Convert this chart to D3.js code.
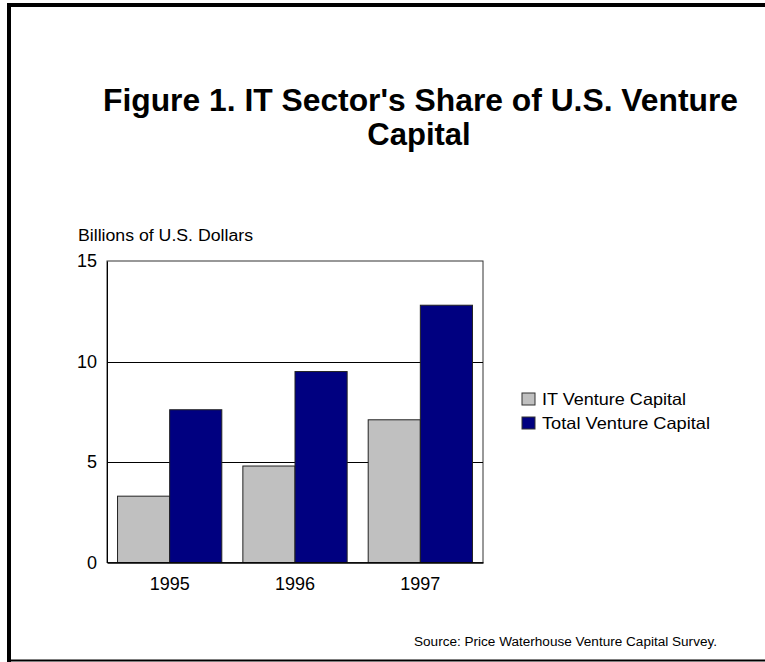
<!DOCTYPE html>
<html>
<head>
<meta charset="utf-8">
<script src="https://cdn.jsdelivr.net/npm/d3@7"></script>
<style>
  body { margin: 0; background: #fff; }
  svg text { font-family: "Liberation Sans", Arial, sans-serif; fill: #000; }
</style>
</head>
<body>
<div id="chart"></div>
<script>
const years = ["1995", "1996", "1997"];
const itVenture = [3.3, 4.8, 7.1];
const totalVenture = [7.6, 9.5, 12.8];
const seriesNames = ["IT Venture Capital", "Total Venture Capital"];
const seriesColors = ["#c0c0c0", "#000080"];
const yTicks = [0, 5, 10, 15];

const width = 765, height = 662;
const plot = {left: 107, right: 483, top: 261, bottom: 562.5};

let svg = d3.select("#chart").append("svg")
    .attr("width", width)
    .attr("height", height);

// outer frame
svg.append("path")
    .attr("d", "M9,662 V5 H765")
    .attr("fill", "none")
    .attr("stroke", "#000")
    .attr("stroke-width", 4);
svg.append("line")
    .attr("x1", 9).attr("x2", 765)
    .attr("y1", 660.5).attr("y2", 660.5)
    .attr("stroke", "#000")
    .attr("stroke-width", 2);

// title
svg.append("text")
    .attr("x", 103).attr("y", 111)
    .attr("font-size", 31).attr("font-weight", "bold")
    .attr("textLength", 635).attr("lengthAdjust", "spacingAndGlyphs")
    .text("Figure 1. IT Sector's Share of U.S. Venture");
svg.append("text")
    .attr("x", 419).attr("y", 145)
    .attr("text-anchor", "middle")
    .attr("font-size", 31).attr("font-weight", "bold")
    .text("Capital");

svg.append("text")
    .attr("x", 78).attr("y", 241)
    .attr("font-size", 16)
    .attr("textLength", 175).attr("lengthAdjust", "spacingAndGlyphs")
    .text("Billions of U.S. Dollars");

let x0 = d3.scaleBand()
    .domain(years)
    .range([plot.left, plot.right])
    .paddingInner(0.168)
    .paddingOuter(0.084);

let x1 = d3.scaleBand()
    .domain([0, 1])
    .range([0, x0.bandwidth()]);

let y = d3.scaleLinear()
    .domain([0, 15])
    .range([plot.bottom, plot.top]);

// plot frame
svg.append("rect")
    .attr("x", plot.left).attr("y", plot.top)
    .attr("width", plot.right - plot.left)
    .attr("height", plot.bottom - plot.top)
    .attr("fill", "none")
    .attr("stroke", "#333")
    .attr("stroke-width", 1);

// gridlines
svg.append("g")
    .selectAll("line")
    .data(yTicks.filter(d => d > 0 && d < 15))
    .enter().append("line")
    .attr("x1", plot.left).attr("x2", plot.right)
    .attr("y1", d => Math.round(y(d)) + 0.5)
    .attr("y2", d => Math.round(y(d)) + 0.5)
    .attr("stroke", "#000");

// bars
let rows = years.map((yr, i) => ({year: yr, values: [itVenture[i], totalVenture[i]]}));

let groups = svg.append("g")
    .selectAll("g")
    .data(rows)
    .enter().append("g")
    .attr("transform", d => "translate(" + x0(d.year) + ",0)");

groups.selectAll("rect")
    .data(d => d.values.map((v, k) => ({k: k, v: v})))
    .enter().append("rect")
    .attr("x", d => x1(d.k))
    .attr("y", d => y(d.v))
    .attr("width", x1.bandwidth())
    .attr("height", d => y(0) - y(d.v))
    .attr("fill", d => seriesColors[d.k])
    .attr("stroke", "#222")
    .attr("stroke-width", 1);

// axes
let yAxis = svg.append("g")
    .attr("transform", "translate(" + plot.left + ",0)")
    .call(d3.axisLeft(y).tickValues(yTicks).tickSize(0).tickPadding(10));
yAxis.select(".domain").attr("stroke", "#000");
yAxis.selectAll("text")
    .attr("font-size", 18)
    .attr("font-family", "Liberation Sans, Arial, sans-serif");

let xAxis = svg.append("g")
    .attr("transform", "translate(0," + plot.bottom + ")")
    .call(d3.axisBottom(x0).tickSize(0).tickPadding(15));
xAxis.select(".domain").attr("stroke", "#000").attr("stroke-width", 1.5);
xAxis.selectAll("text")
    .attr("font-size", 18)
    .attr("font-family", "Liberation Sans, Arial, sans-serif");

// legend
let legend = svg.append("g")
    .selectAll("g")
    .data(seriesNames)
    .enter().append("g")
    .attr("transform", (d, i) => "translate(522," + (393 + i * 24) + ")");

legend.append("rect")
    .attr("width", 13).attr("height", 12)
    .attr("fill", (d, i) => seriesColors[i])
    .attr("stroke", "#333");

legend.append("text")
    .attr("x", 20).attr("y", 12)
    .attr("font-size", 16.5)
    .attr("textLength", (d, i) => i ? 168 : 144)
    .attr("lengthAdjust", "spacingAndGlyphs")
    .text(d => d);

svg.append("text")
    .attr("x", 414).attr("y", 646)
    .attr("font-size", 12.5)
    .attr("textLength", 303).attr("lengthAdjust", "spacingAndGlyphs")
    .text("Source: Price Waterhouse Venture Capital Survey.");
</script>
</body>
</html>
